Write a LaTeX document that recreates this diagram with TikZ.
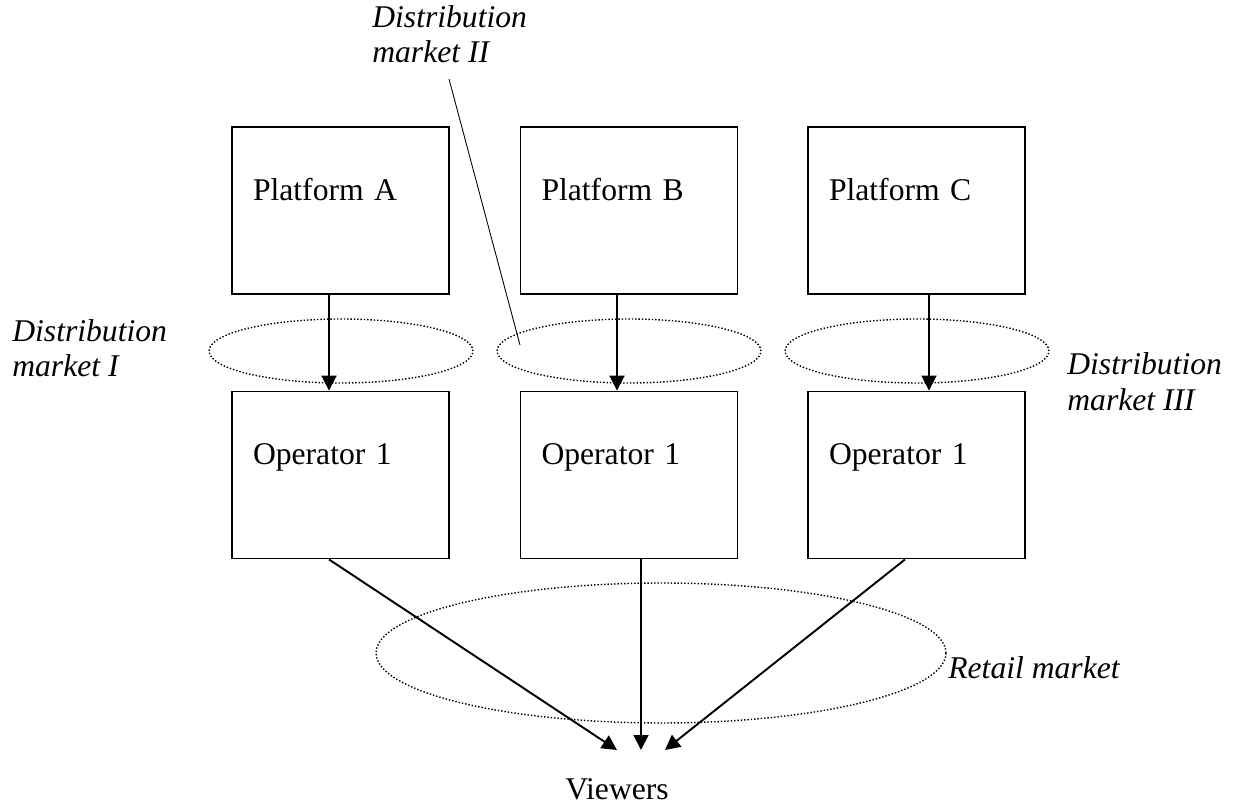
\documentclass[tikz,border=0pt]{standalone}
\usepackage{fontspec}
\setmainfont{Liberation Serif}
\usetikzlibrary{arrows.meta, positioning, calc}

\begin{document}
\begin{tikzpicture}[x=0.02cm, y=-0.02cm,
  every node/.style={font=\fontsize{18}{20}\selectfont},
  box/.style={draw, line width=1.1pt, inner xsep=0.42cm, inner ysep=0pt,
    text width=3.5cm, align=left, text height=1.46cm, text depth=1.88cm},
  arr/.style={line width=1.1pt, -{Triangle[length=8.5pt,width=8.5pt]}},
  dots/.style={line width=0.8pt, dash pattern=on 0.8pt off 1.1pt},
  lab/.style={font=\fontsize{18}{20}\selectfont\itshape, align=left, inner sep=0pt}]
\useasboundingbox (0,0) rectangle (1238,804);

% platforms and operators
\node[box] (pa) at (340.5,210.5) {Platform A};
\node[box] (pb) at (629,210.5) {Platform B};
\node[box] (pc) at (916.5,210.5) {Platform C};
\node[box] (oa) at (340.5,475) {Operator 1};
\node[box] (ob) at (629,475) {Operator 1};
\node[box] (oc) at (916.5,475) {Operator 1};

% markets
\draw[dots] (341,351) ellipse [x radius=2.64cm, y radius=0.64cm];
\draw[dots] (629,351) ellipse [x radius=2.64cm, y radius=0.64cm];
\draw[dots] (917,351) ellipse [x radius=2.64cm, y radius=0.64cm];
\draw[dots] (661,653) ellipse [x radius=5.7cm, y radius=1.4cm];

\draw[arr] (pa.south -| 329,0) -- (oa.north -| 329,0);
\draw[arr] (pb.south -| 617,0) -- (ob.north -| 617,0);
\draw[arr] (pc.south -| 929,0) -- (oc.north -| 929,0);

% viewers
\node[inner sep=0pt, anchor=base] (vw) at (617,799) {Viewers};
\coordinate (vl) at (617,750);
\coordinate (vm) at (641,750);
\coordinate (vr) at (665,750);
\draw[arr] (oa.south -| 329,0) -- (vl);
\draw[arr] (ob.south -| 641,0) -- (vm);
\draw[arr] (oc.south -| 905,0) -- (vr);

% labels
\node[lab, anchor=base west] (dm1) at (12,377) {Distribution\\market I};
\node[lab, anchor=base west] (dm2) at (372,63) {Distribution\\market II};
\node[lab, anchor=base west] (dm3) at (1067,410) {Distribution\\market III};
\node[lab, anchor=base west] (rm) at (948,678) {Retail market};
\coordinate (dm2e) at (520,345);
\draw[line width=0.5pt] (449,79) -- (dm2e);
\end{tikzpicture}
\end{document}
